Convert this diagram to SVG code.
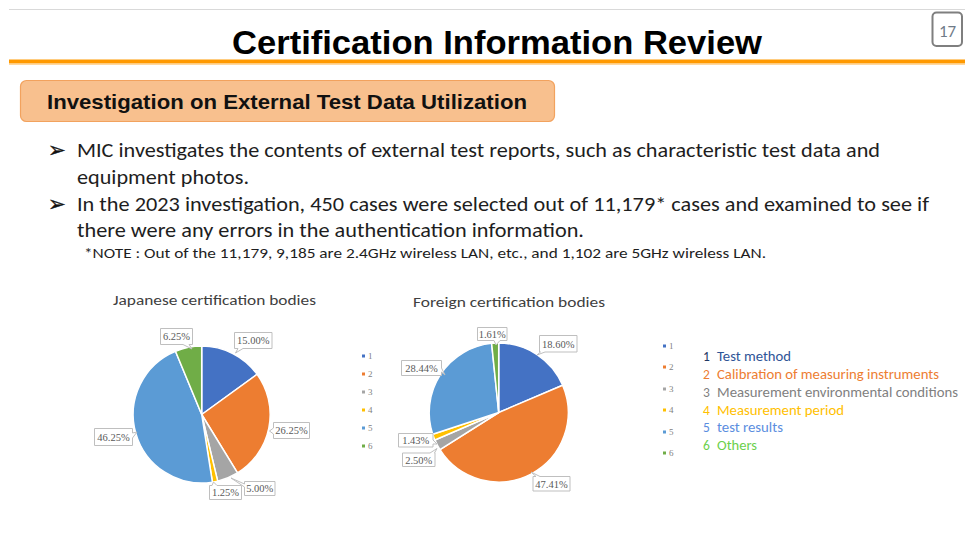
<svg xmlns="http://www.w3.org/2000/svg" width="965" height="540" viewBox="0 0 965 540">
  <style>
    .body { font-family: Carlito, Lato, "Open Sans", sans-serif; font-size: 20px; fill: #1e1e1e; }
    .note { font-family: Carlito, Lato, "Open Sans", sans-serif; font-size: 14px; fill: #1e1e1e; }
    .bullet { font-family: "DejaVu Sans", sans-serif; font-size: 21px; fill: #111111; stroke: #111111; stroke-width: 0.4; }
    .ctitle { font-family: Carlito, Lato, "Open Sans", sans-serif; font-size: 14.5px; fill: #404040; }
    .pct { font-family: "Liberation Serif", "Times New Roman", serif; font-size: 10.5px; fill: #595959; text-anchor: middle; }
    .callout { fill: #ffffff; stroke: #bfbfbf; stroke-width: 1; }
    .slice { stroke: #ffffff; stroke-width: 1.5; stroke-linejoin: round; }
    .mini { font-family: "Liberation Serif", "Times New Roman", serif; font-size: 9px; fill: #7f7f7f; }
    .key { font-family: Carlito, Lato, "Open Sans", sans-serif; font-size: 13.5px; }
    .c1 { fill: #4472c4; } .c2 { fill: #ed7d31; } .c3 { fill: #a5a5a5; }
    .c4 { fill: #ffc000; } .c5 { fill: #5b9bd5; } .c6 { fill: #70ad47; }
  </style>

  <rect width="965" height="540" fill="#ffffff"/>

  <!-- page header -->
  <g id="header">
    <line x1="9" y1="9.5" x2="965" y2="9.5" stroke="#d9d9d9" stroke-width="1"/>
    <text x="497" y="53.5" text-anchor="middle" font-family="'Liberation Sans', Arial, sans-serif" font-weight="bold" font-size="34" fill="#000000" textLength="530" lengthAdjust="spacingAndGlyphs">Certification Information Review</text>
    <rect x="9" y="59.5" width="956" height="4" fill="#ff9900"/>
    <line x1="9" y1="64.5" x2="965" y2="64.5" stroke="#ffd8a0" stroke-width="1"/>
    <rect x="932.5" y="12.5" width="29.5" height="33.5" rx="4" fill="#ffffff" stroke="#7f7f7f" stroke-width="2"/>
    <text x="947.5" y="36.5" text-anchor="middle" font-family="Carlito, Lato, 'Open Sans', sans-serif" font-size="17" fill="#6f7b88">17</text>
  </g>

  <!-- section heading -->
  <g id="section-heading">
    <rect x="20.5" y="80.5" width="534" height="41" rx="6" fill="#f8c08e" stroke="#f2a25e" stroke-width="1.2"/>
    <text x="47" y="108.5" font-family="'Liberation Sans', Arial, sans-serif" font-weight="bold" font-size="21" fill="#111111" textLength="480" lengthAdjust="spacingAndGlyphs">Investigation on External Test Data Utilization</text>
  </g>

  <!-- bullet text -->
  <g id="bullets">
    <text class="bullet" x="48" y="157">➢</text>
    <text class="body" x="77" y="157" textLength="803" lengthAdjust="spacingAndGlyphs">MIC investigates the contents of external test reports, such as characteristic test data and</text>
    <text class="body" x="77" y="183.5" textLength="172" lengthAdjust="spacingAndGlyphs">equipment photos.</text>
    <text class="bullet" x="48" y="210.5">➢</text>
    <text class="body" x="77" y="210.5" textLength="852" lengthAdjust="spacingAndGlyphs">In the 2023 investigation, 450 cases were selected out of 11,179* cases and examined to see if</text>
    <text class="body" x="77" y="237" textLength="507" lengthAdjust="spacingAndGlyphs">there were any errors in the authentication information.</text>
    <text class="note" x="84" y="258" textLength="682" lengthAdjust="spacingAndGlyphs">*NOTE : Out of the 11,179, 9,185 are 2.4GHz wireless LAN, etc., and 1,102 are 5GHz wireless LAN.</text>
  </g>

  <!-- pie: Japanese certification bodies (centre 201.7,414.5  r 68.5) -->
  <g id="pie-japanese">
    <text class="ctitle" x="113" y="305" textLength="203" lengthAdjust="spacingAndGlyphs">Japanese certification bodies</text>
    <path class="slice c1" d="M201.7,414.5 L201.7,346 A68.5,68.5 0 0 1 257.12,374.24 Z"/>
    <path class="slice c2" d="M201.7,414.5 L257.12,374.24 A68.5,68.5 0 0 1 237.49,472.9 Z"/>
    <path class="slice c3" d="M201.7,414.5 L237.49,472.9 A68.5,68.5 0 0 1 217.69,481.11 Z"/>
    <path class="slice c4" d="M201.7,414.5 L217.69,481.11 A68.5,68.5 0 0 1 212.41,482.16 Z"/>
    <path class="slice c5" d="M201.7,414.5 L212.41,482.16 A68.5,68.5 0 0 1 175.49,351.21 Z"/>
    <path class="slice c6" d="M201.7,414.5 L175.49,351.21 A68.5,68.5 0 0 1 201.7,346 Z"/>

    <path class="callout" d="M234.5,332.5 H272 V348.5 H243 L235.5,353 L238,348.5 H234.5 Z"/>
    <text class="pct" x="253.3" y="344">15.00%</text>
    <path class="callout" d="M160.5,328.5 H192.5 V344.5 H189 L192,349 L183,344.5 H160.5 Z"/>
    <text class="pct" x="176.5" y="340">6.25%</text>
    <path class="callout" d="M273.5,422.5 H309.5 V438.5 H273.5 V434 L269.5,431 L273.5,428 Z"/>
    <text class="pct" x="291.5" y="434">26.25%</text>
    <path class="callout" d="M94.5,428.5 H132.5 V433 L137,432 L132.5,438 V445.5 H94.5 Z"/>
    <text class="pct" x="113.5" y="441">46.25%</text>
    <path class="callout" d="M209.5,485.5 H212 L213.5,482 L217,485.5 H241.5 V499.5 H209.5 Z"/>
    <text class="pct" x="225.5" y="496">1.25%</text>
    <path class="callout" d="M244.5,481.5 H275 V495.5 H244.5 V487 L231,478 L244.5,484 Z"/>
    <text class="pct" x="259.8" y="492">5.00%</text>
  </g>

  <!-- pie: Foreign certification bodies (centre 498.7,412.5  r 69.5) -->
  <g id="pie-foreign">
    <text class="ctitle" x="413" y="306.5" textLength="192" lengthAdjust="spacingAndGlyphs">Foreign certification bodies</text>
    <path class="slice c1" d="M498.7,412.5 L498.7,343 A69.5,69.5 0 0 1 562.66,385.3 Z"/>
    <path class="slice c2" d="M498.7,412.5 L562.66,385.3 A69.5,69.5 0 0 1 439.99,449.7 Z"/>
    <path class="slice c3" d="M498.7,412.5 L439.99,449.7 A69.5,69.5 0 0 1 434.9,440.06 Z"/>
    <path class="slice c4" d="M498.7,412.5 L434.9,440.06 A69.5,69.5 0 0 1 432.68,434.23 Z"/>
    <path class="slice c5" d="M498.7,412.5 L432.68,434.23 A69.5,69.5 0 0 1 491.64,343.36 Z"/>
    <path class="slice c6" d="M498.7,412.5 L491.64,343.36 A69.5,69.5 0 0 1 498.7,343 Z"/>

    <path class="callout" d="M477.5,327.5 H507 V340.5 H500 L496,345 L494,340.5 H477.5 Z"/>
    <text class="pct" x="492.3" y="337.5">1.61%</text>
    <path class="callout" d="M539.5,335.5 H577 V352 H545 L537,355 L540.5,352 H539.5 Z"/>
    <text class="pct" x="558.3" y="347.5">18.60%</text>
    <path class="callout" d="M401.5,360.5 H441.5 V368 L445,375 L441.5,372 V375.5 H401.5 Z"/>
    <text class="pct" x="421.5" y="372">28.44%</text>
    <path class="callout" d="M398.5,433.5 H433 V440 L437,444 L433,444 V447 H398.5 Z"/>
    <text class="pct" x="415.8" y="444">1.43%</text>
    <path class="callout" d="M402.5,453 H430 L437,448.5 L434.5,453 H435 V466.5 H402.5 Z"/>
    <text class="pct" x="418.8" y="463.5">2.50%</text>
    <path class="callout" d="M533,476.5 H536 L531,472 L540,476.5 H570 V491 H533 Z"/>
    <text class="pct" x="551.5" y="487.5">47.41%</text>

    <!-- series key -->
    <rect class="c1" x="362" y="354.5" width="3" height="3"/>
    <rect class="c2" x="362" y="372.5" width="3" height="3"/>
    <rect class="c3" x="362" y="390.5" width="3" height="3"/>
    <rect class="c4" x="362" y="408.5" width="3" height="3"/>
    <rect class="c5" x="362" y="426.5" width="3" height="3"/>
    <rect class="c6" x="362" y="444.5" width="3" height="3"/>
    <text class="mini" x="368" y="359">1</text>
    <text class="mini" x="368" y="377">2</text>
    <text class="mini" x="368" y="395">3</text>
    <text class="mini" x="368" y="413">4</text>
    <text class="mini" x="368" y="431">5</text>
    <text class="mini" x="368" y="449">6</text>
  </g>

  <!-- category legend -->
  <g id="legend">
    <rect class="c1" x="663" y="344.5" width="3" height="3"/>
    <rect class="c2" x="663" y="365.5" width="3" height="3"/>
    <rect class="c3" x="663" y="387.5" width="3" height="3"/>
    <rect class="c4" x="663" y="408.5" width="3" height="3"/>
    <rect class="c5" x="663" y="430.5" width="3" height="3"/>
    <rect class="c6" x="663" y="451.5" width="3" height="3"/>
    <text class="mini" x="669" y="349">1</text>
    <text class="mini" x="669" y="370">2</text>
    <text class="mini" x="669" y="392">3</text>
    <text class="mini" x="669" y="413">4</text>
    <text class="mini" x="669" y="435">5</text>
    <text class="mini" x="669" y="456">6</text>

    <text class="key" x="703" y="360.5" fill="#1f3864">1</text>
    <text class="key" x="717" y="360.5" fill="#2f5597" textLength="74" lengthAdjust="spacingAndGlyphs">Test method</text>
    <text class="key" x="703" y="378.5" fill="#ed7d31">2</text>
    <text class="key" x="717" y="378.5" fill="#ed7d31" textLength="222" lengthAdjust="spacingAndGlyphs">Calibration of measuring instruments</text>
    <text class="key" x="703" y="396.5" fill="#808080">3</text>
    <text class="key" x="717" y="396.5" fill="#808080" textLength="241" lengthAdjust="spacingAndGlyphs">Measurement environmental conditions</text>
    <text class="key" x="703" y="414.5" fill="#ffc000">4</text>
    <text class="key" x="717" y="414.5" fill="#ffc000" textLength="127" lengthAdjust="spacingAndGlyphs">Measurement period</text>
    <text class="key" x="703" y="432" fill="#5b8ee0">5</text>
    <text class="key" x="717" y="432" fill="#5b8ee0" textLength="66" lengthAdjust="spacingAndGlyphs">test results</text>
    <text class="key" x="703" y="449.5" fill="#6cd04c">6</text>
    <text class="key" x="717" y="449.5" fill="#6cd04c" textLength="40" lengthAdjust="spacingAndGlyphs">Others</text>
  </g>
</svg>
